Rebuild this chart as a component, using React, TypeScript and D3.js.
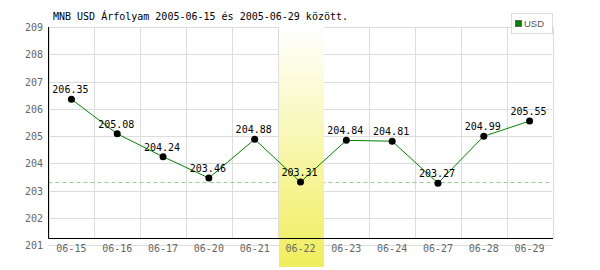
import React from "react";
import * as d3 from "d3";

const categories = ["06-15", "06-16", "06-17", "06-20", "06-21", "06-22", "06-23", "06-24", "06-27", "06-28", "06-29"];
const values = [206.35, 205.08, 204.24, 203.46, 204.88, 203.31, 204.84, 204.81, 203.27, 204.99, 205.55];
const yTicks = [201, 202, 203, 204, 205, 206, 207, 208, 209];
const highlightCategory = "06-22";
const referenceValue = 203.31;
const title = "MNB USD Árfolyam 2005-06-15 és 2005-06-29 között.";
const seriesName = "USD";

const W = 600;
const H = 270;
const left = 48.5;
const right = 552.5;
const top = 27;
const bottom = 245;
const axisY = 238.5;
const mono = "'DejaVu Sans Mono', monospace";

export default function App() {
  const x = d3.scaleBand<string>().domain(categories).range([left, right]).paddingInner(0).paddingOuter(0);
  const y = d3.scaleLinear().domain([201, 209]).range([bottom, top]);
  const bw = x.bandwidth();
  const cx = (c: string) => (x(c) as number) + bw / 2;
  const line = d3
    .line<number>()
    .x((_, i) => cx(categories[i]))
    .y((d) => y(d));
  const r = (v: number) => Math.round(v) + 0.5;
  const hx = x(highlightCategory) as number;

  return (
    <svg width={W} height={H} style={{ position: "fixed", left: 0, top: 0, background: "#fff" }}>
      <defs>
        <linearGradient id="hl" x1="0" y1="0" x2="0" y2="1">
          <stop offset="0" stopColor="#ffffff" />
          <stop offset="1" stopColor="#f0ee5c" />
        </linearGradient>
      </defs>
      <rect x={0} y={0} width={W} height={H} fill="#fff" />
      {/* horizontal grid */}
      {yTicks.map((t) => (
        <line key={"h" + t} x1={left} x2={right} y1={r(y(t))} y2={r(y(t))} stroke="#dcdcdc" strokeWidth={1} />
      ))}
      {/* vertical grid */}
      {categories.map((c) => (
        <line key={"v" + c} x1={r(x(c) as number)} x2={r(x(c) as number)} y1={top} y2={axisY} stroke="#dcdcdc" />
      ))}
      <line x1={r(right)} x2={r(right)} y1={top} y2={axisY} stroke="#dcdcdc" />
      {/* reference dashed line */}
      <line x1={left} x2={right} y1={r(y(referenceValue))} y2={r(y(referenceValue))} stroke="#99cc99" strokeDasharray="4,3" />
      {/* highlight column */}
      <rect x={Math.round(hx) + 1} y={top} width={Math.round(bw) - 1} height={267 - top} fill="url(#hl)" />
      {/* axes */}
      <line x1={left} x2={left} y1={top} y2={axisY} stroke="#000" />
      <line x1={left} x2={right + 0.5} y1={axisY} y2={axisY} stroke="#000" />
      {/* y tick labels */}
      {yTicks.map((t) => (
        <text key={"yl" + t} x={43} y={y(t) + 4} textAnchor="end" fontFamily={mono} fontSize={10} fill="#666">
          {t}
        </text>
      ))}
      {/* x tick labels */}
      {categories.map((c) => (
        <text key={"xl" + c} x={cx(c)} y={252} textAnchor="middle" fontFamily={mono} fontSize={10} fill="#666">
          {c}
        </text>
      ))}
      {/* series line */}
      <path d={line(values) as string} fill="none" stroke="#008000" strokeWidth={1} />
      {values.map((v, i) => (
        <circle key={"p" + i} cx={cx(categories[i])} cy={y(v)} r={3.5} fill="#000" />
      ))}
      {values.map((v, i) => (
        <text key={"vl" + i} x={cx(categories[i]) - 1} y={y(v) - 6} textAnchor="middle" fontFamily={mono} fontSize={10} fill="#000">
          {v.toFixed(2)}
        </text>
      ))}
      {/* title */}
      <text x={53} y={20} fontFamily={mono} fontSize={10} fill="#000">
        {title}
      </text>
      {/* legend */}
      <rect x={511.5} y={13.5} width={41} height={20} fill="#fff" stroke="#dcdcdc" />
      <rect x={515.5} y={20.5} width={6} height={6} fill="#008000" stroke="#666" />
      <text x={524} y={27} fontFamily="'Liberation Sans', Arial, sans-serif" fontSize={9.5} fill="#555">
        {seriesName}
      </text>
    </svg>
  );
}
